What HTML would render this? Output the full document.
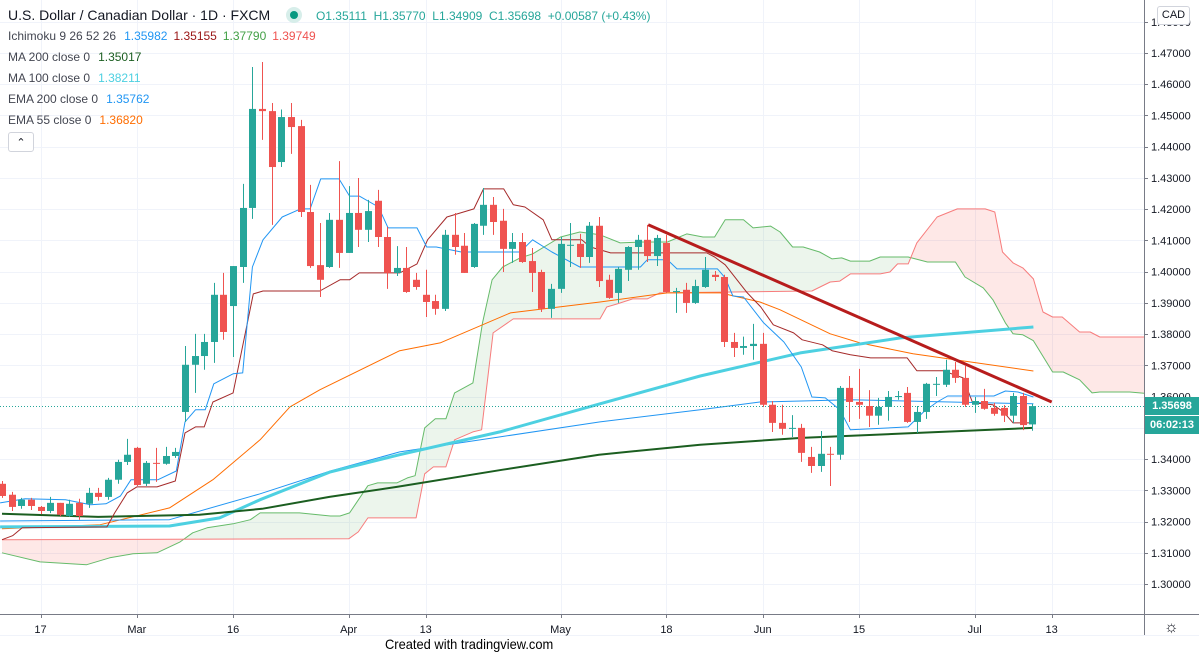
<!DOCTYPE html>
<html><head><meta charset="utf-8"><style>
html,body{margin:0;padding:0;background:#fff;width:1199px;height:659px;overflow:hidden}
body{font-family:"Liberation Sans",sans-serif;position:relative}
.leg{position:absolute;left:8px;font-size:12px;color:#434651;white-space:nowrap}
.leg span{margin-left:8px}
</style></head><body>
<svg id="chart" width="1199" height="659" style="position:absolute;left:0;top:0" xmlns="http://www.w3.org/2000/svg">
<defs><clipPath id="plotclip"><rect x="0" y="0" width="1144" height="614"/></clipPath></defs>
<g id="grid"></g>
<g id="cloud" clip-path="url(#plotclip)"></g>
<g id="lines" clip-path="url(#plotclip)"></g>
<g id="candles" clip-path="url(#plotclip)"></g>
<g id="trend" clip-path="url(#plotclip)"></g>
<g id="axes"></g>
</svg>
<div class="leg" style="top:7px;font-size:14px;color:#131722">U.S. Dollar / Canadian Dollar · 1D · FXCM
<span style="display:inline-block;width:16px;height:16px;border-radius:50%;background:#d7eeea;vertical-align:-3px;margin-left:12px;position:relative"><span style="position:absolute;left:4px;top:4px;width:8px;height:8px;border-radius:50%;background:#089981;margin:0"></span></span>
<span style="font-size:12px;color:#26a69a;margin-left:10px">O1.35111&nbsp; H1.35770&nbsp; L1.34909&nbsp; C1.35698&nbsp; +0.00587 (+0.43%)</span></div>
<div class="leg" style="top:29px">Ichimoku 9 26 52 26<span style="color:#2196f3">1.35982</span><span style="color:#991515;margin-left:6px">1.35155</span><span style="color:#43a047;margin-left:6px">1.37790</span><span style="color:#ef5350;margin-left:6px">1.39749</span></div>
<div class="leg" style="top:50px">MA 200 close 0<span style="color:#1b5e20">1.35017</span></div>
<div class="leg" style="top:71px">MA 100 close 0<span style="color:#4dd0e1">1.38211</span></div>
<div class="leg" style="top:92px">EMA 200 close 0<span style="color:#2196f3">1.35762</span></div>
<div class="leg" style="top:113px">EMA 55 close 0<span style="color:#ff6d00">1.36820</span></div>
<div style="position:absolute;left:8px;top:132px;width:24px;height:18px;border:1px solid #d1d4dc;border-radius:3px;background:#fff;font-size:11px;text-align:center;line-height:20px;color:#131722">&#8963;</div>
<div style="position:absolute;left:1157px;top:6px;width:31px;height:17px;border:1px solid #d1d4dc;border-radius:3px;background:#fff;font-size:11px;text-align:center;line-height:17px;color:#131722">CAD</div>
<div style="position:absolute;left:1145px;top:397px;width:54px;height:18px;background:#26a69a;color:#fff;font-size:11px;font-weight:bold;line-height:18px;text-align:center">1.35698</div>
<div style="position:absolute;left:1145px;top:416px;width:54px;height:18px;background:#26a69a;color:#fff;font-size:11px;font-weight:bold;line-height:18px;text-align:center">06:02:13</div>
<div style="position:absolute;left:1164px;top:619px;font-size:16px;color:#131722">&#9788;</div>
<div style="position:absolute;left:385px;top:636px;font-size:14px;color:#000;transform:scaleX(0.92);transform-origin:left">Created with tradingview.com</div>
<script>
const firstIndex = -4;
const opens  = [1.3321,1.3286,1.3250,1.3270,1.3247,1.3234,1.3260,1.3218,1.3260,1.3257,1.3292,1.3279,1.3334,1.3391,1.3436,1.3321,1.3388,1.3385,1.3410,1.3551,1.3702,1.3730,1.3775,1.3926,1.3890,1.4015,1.4204,1.4521,1.4514,1.4351,1.4495,1.4466,1.4191,1.4021,1.4015,1.4166,1.4060,1.4188,1.4134,1.4227,1.4111,1.3996,1.4012,1.3974,1.3926,1.3906,1.3881,1.4118,1.4083,1.4015,1.4147,1.4214,1.4163,1.4073,1.4095,1.4034,1.3999,1.3881,1.3945,1.4083,1.4089,1.4047,1.4147,1.3974,1.3932,1.4006,1.4079,1.4102,1.4050,1.4092,1.3935,1.3942,1.3900,1.3951,1.3990,1.3983,1.3775,1.3756,1.3762,1.3769,1.3574,1.3516,1.3497,1.3500,1.3407,1.3378,1.3417,1.3414,1.3628,1.3583,1.3570,1.3539,1.3567,1.3599,1.3612,1.3519,1.3551,1.3638,1.3638,1.3686,1.3660,1.3574,1.3586,1.3564,1.3564,1.3539,1.3602,1.35111];
const highs  = [1.3330,1.3295,1.3276,1.3276,1.3250,1.3279,1.3260,1.3270,1.3273,1.3308,1.3308,1.3340,1.3398,1.3465,1.3439,1.3394,1.3436,1.3439,1.3436,1.3762,1.3801,1.3801,1.3964,1.3996,1.4018,1.4281,1.4655,1.4671,1.4540,1.4519,1.4540,1.4486,1.4278,1.4156,1.4188,1.4354,1.4274,1.4300,1.4230,1.4262,1.4143,1.4082,1.4079,1.3996,1.4006,1.3926,1.4134,1.4188,1.4124,1.4156,1.4268,1.4239,1.4201,1.4124,1.4124,1.4076,1.4006,1.3961,1.4111,1.4156,1.4121,1.4159,1.4175,1.3990,1.4015,1.4082,1.4118,1.4150,1.4118,1.4118,1.3948,1.3964,1.3974,1.4047,1.4002,1.3990,1.3804,1.3792,1.3833,1.3804,1.3586,1.3574,1.3541,1.3513,1.3439,1.3490,1.3439,1.3634,1.3666,1.3689,1.3621,1.3596,1.3618,1.3618,1.3631,1.3570,1.3644,1.3663,1.3718,1.3711,1.3698,1.3599,1.3625,1.3580,1.3573,1.3612,1.3612,1.35770];
const lows   = [1.3276,1.3234,1.3241,1.3237,1.3224,1.3227,1.3218,1.3215,1.3206,1.3244,1.3267,1.3270,1.3321,1.3381,1.3314,1.3314,1.3327,1.3382,1.3404,1.3519,1.3612,1.3686,1.3708,1.3782,1.3727,1.3964,1.4169,1.4422,1.4150,1.4335,1.4377,1.4175,1.4012,1.3919,1.4012,1.4012,1.4060,1.4079,1.4095,1.4079,1.3945,1.3986,1.3932,1.3942,1.3855,1.3862,1.3874,1.4054,1.3996,1.4012,1.4118,1.4118,1.3999,1.4028,1.4028,1.3935,1.3871,1.3852,1.3932,1.4015,1.4012,1.4028,1.3951,1.3913,1.3900,1.3970,1.4006,1.4031,1.4018,1.3932,1.3868,1.3868,1.3897,1.3948,1.3970,1.3759,1.3727,1.3734,1.3718,1.3567,1.3487,1.3478,1.3471,1.3391,1.3356,1.3359,1.3314,1.3398,1.3519,1.3529,1.3503,1.3510,1.3523,1.3590,1.3516,1.3484,1.3529,1.3602,1.3631,1.3644,1.3567,1.3548,1.3558,1.3539,1.3519,1.3516,1.3493,1.34909];
const closes = [1.3282,1.3247,1.3270,1.3250,1.3234,1.3260,1.3222,1.3257,1.3218,1.3292,1.3279,1.3334,1.3391,1.3414,1.3317,1.3388,1.3385,1.3410,1.3423,1.3702,1.3730,1.3775,1.3926,1.3807,1.4018,1.4204,1.4521,1.4514,1.4335,1.4495,1.4463,1.4191,1.4018,1.3974,1.4166,1.4060,1.4188,1.4134,1.4194,1.4111,1.3996,1.4012,1.3935,1.3951,1.3903,1.3881,1.4118,1.4079,1.3996,1.4153,1.4214,1.4159,1.4073,1.4095,1.4031,1.3996,1.3881,1.3945,1.4089,1.4086,1.4047,1.4147,1.3970,1.3916,1.4009,1.4079,1.4102,1.4050,1.4108,1.3935,1.3938,1.3900,1.3954,1.4006,1.3983,1.3775,1.3756,1.3762,1.3769,1.3574,1.3516,1.3497,1.3500,1.3420,1.3378,1.3417,1.3414,1.3628,1.3583,1.3574,1.3539,1.3567,1.3599,1.3602,1.3519,1.3551,1.3641,1.3641,1.3686,1.3660,1.3574,1.3586,1.3561,1.3545,1.3539,1.3602,1.3509,1.35698];

const ma200Idx = [-4,6,16.5,23,30,37,48,58,68.5,79,89,103];
const ma200Val = [1.3225,1.3215,1.3222,1.3241,1.3279,1.3311,1.3366,1.3414,1.3446,1.3468,1.3481,1.3500];
const ma100Idx = [-4.2,13.4,18.6,22.8,30.1,37.3,47.7,58.1,68.5,78.9,89.3,103.1];
const ma100Val = [1.3183,1.3186,1.3212,1.3270,1.3359,1.3414,1.3487,1.3577,1.3666,1.3740,1.3788,1.3823];
const ema200Idx = [-4.2,13.4,22.8,30.1,37.3,47.7,58.1,68.5,74.7,84.1,103.1];
const ema200Val = [1.3202,1.3206,1.3289,1.3362,1.3423,1.3471,1.3519,1.3558,1.3583,1.3590,1.3577];
const ema55Idx = [-4,6.2,13.4,17.9,22.8,25.9,29,37.3,41.5,48.8,58.1,65.1,70.6,74.7,76.8,82,85.1,90.6,103.1];
const ema55Val = [1.3177,1.3190,1.3244,1.3334,1.3462,1.3567,1.3622,1.3747,1.3772,1.3868,1.3903,1.3932,1.3932,1.3903,1.3878,1.3801,1.3772,1.3737,1.3682];
const tenkanIdx = [-4.2,-1.6,2.6,5.2,6.8,8.3,9.4,12.2,14.1,15,16.1,17.1,18,20,21,22,23.1,25.1,27,28,29.1,31,32.1,33.1,35.1,36.1,39.1,40.1,41.1,43.7,49.8,51.1,53.1,56,58.1,62.3,63,65.1,66.1,70.3,71.1,71.9,73,75.1,77.2,79,80.1,81.5,83,84.1,90.1,91.7,93.1,94.2,99,100.2,101.5,103.1];
const tenkanVal = [1.3260,1.3273,1.3270,1.3254,1.3257,1.3282,1.3334,1.3334,1.3362,1.3519,1.3558,1.3558,1.3641,1.3673,1.3676,1.4015,1.4102,1.4175,1.4201,1.4201,1.4297,1.4297,1.4242,1.4242,1.4207,1.4140,1.4140,1.4079,1.4079,1.4063,1.4063,1.4102,1.4063,1.4015,1.4015,1.4015,1.4038,1.4038,1.4009,1.4009,1.3980,1.3922,1.3919,1.3836,1.3775,1.3695,1.3599,1.3596,1.3558,1.3494,1.3503,1.3551,1.3583,1.3602,1.3602,1.3618,1.3615,1.3599];
const kijunIdx = [-4,-2.9,-1.9,6.9,7.7,9,10,12.1,14,15,16.1,17,17.9,20,22.1,23.1,29,31.1,32.1,33.1,37.3,39.1,40.2,42.2,45,46,48.1,49.1,50.3,52.2,53.1,56.2,57.1,59.2,69.2,70,71.1,73.4,74.8,76.1,78.2,79.1,81.2,82.2,84.1,86.2,90,91,93.7,95.8,96.8,98.9,100,101,103.1];
const kijunVal = [1.3142,1.3155,1.3180,1.3183,1.3228,1.3292,1.3311,1.3311,1.3330,1.3484,1.3503,1.3503,1.3583,1.3612,1.3929,1.3938,1.3938,1.3974,1.3974,1.3996,1.3996,1.4025,1.4102,1.4175,1.4201,1.4265,1.4265,1.4214,1.4207,1.4166,1.4102,1.4102,1.4079,1.4060,1.4060,1.4047,1.4022,1.3932,1.3887,1.3830,1.3804,1.3782,1.3766,1.3747,1.3734,1.3724,1.3724,1.3683,1.3683,1.3660,1.3580,1.3574,1.3551,1.3516,1.3516];
const spanAIdx = [-4,-0.05,4.8,7.2,9.6,12.1,14.5,15.8,17.3,20,21.8,22.8,26.9,30.1,31.1,32.1,34,35,37,38.1,38.9,39.9,41,42.1,43,44.9,45.9,46.9,48,49.8,51.1,54,56,58.1,60.2,62.3,65.1,67.1,68.8,70,71.1,73,74,75.8,76.8,78.1,79.2,80.9,82.2,83.2,84.1,86.1,87.2,90.1,92.1,95,96,97.9,98.9,100.2,101,102,103.1,105.1,106.2,107.9,109.2,110,113.1,115.2];
const spanAVal = [1.3100,1.3071,1.3062,1.3084,1.3097,1.3100,1.3135,1.3164,1.3180,1.3193,1.3206,1.3228,1.3228,1.3218,1.3218,1.3228,1.3315,1.3324,1.3324,1.3340,1.3347,1.3500,1.3529,1.3529,1.3612,1.3644,1.3836,1.3974,1.4015,1.4044,1.4057,1.4111,1.4127,1.4118,1.4092,1.4095,1.4095,1.4121,1.4111,1.4111,1.4166,1.4166,1.4140,1.4146,1.4127,1.4079,1.4079,1.4063,1.4041,1.4044,1.4034,1.4034,1.4047,1.4047,1.4031,1.4031,1.3983,1.3948,1.3910,1.3836,1.3801,1.3798,1.3779,1.3679,1.3679,1.3654,1.3612,1.3615,1.3615,1.3609];
const spanBIdx = [-4,32,33,34,39,39.9,40.8,42.1,43,44.9,45.8,47,49.1,58.1,58.8,59.9,61.5,63,64.3,80.1,82,83,84.1,87.2,88.2,89,90.1,91,93.1,95.2,98.1,99.1,99.9,101,102,103.1,104.1,105.1,106.1,107.9,109,110,115.2];
const spanBVal = [1.3142,1.3145,1.3167,1.3212,1.3212,1.3353,1.3375,1.3375,1.3462,1.3487,1.3494,1.3804,1.3849,1.3849,1.3887,1.3897,1.3913,1.3913,1.3932,1.3938,1.3967,1.3970,1.3993,1.3993,1.3999,1.4025,1.4025,1.4092,1.4175,1.4201,1.4201,1.4191,1.4063,1.4028,1.4012,1.3977,1.3871,1.3855,1.3855,1.3807,1.3807,1.3791,1.3791];
const trendIdx = [63.1,105];
const trendVal = [1.4150,1.3583];
const priceTicks = [1.30,1.31,1.32,1.33,1.34,1.35,1.36,1.37,1.38,1.39,1.40,1.41,1.42,1.43,1.44,1.45,1.46,1.47,1.48];
const timeTickIdx = [0,10,20,32,40,54,65,75,85,97,105];
const timeTickLabels = ["17","Mar","16","Apr","13","May","18","Jun","15","Jul","13"];
const lastClose = 1.35698;

const NS = "http://www.w3.org/2000/svg";
const PLOT_R = 1144, PLOT_B = 614;
function xS(i){ return 40.5 + i*9.63; }
function yS(p){ return 53 + (1.47 - p)*3124; }
function mk(tag, attrs, parent){ const e=document.createElementNS(NS,tag); for(const k in attrs) e.setAttribute(k,attrs[k]); parent.appendChild(e); return e; }

const grid=document.getElementById('grid');
priceTicks.forEach(p=>{
  const y=Math.round(yS(p))+0.5;
  const l=mk('line',{x1:0,x2:PLOT_R,y1:y,y2:y,stroke:'#f0f3fa','stroke-width':1},grid);
  
  
});
timeTickIdx.forEach(i=>{
  const x=Math.round(xS(i))+0.5;
  const l=mk('line',{x1:x,x2:x,y1:0,y2:PLOT_B,stroke:'#f0f3fa','stroke-width':1},grid);
  
  
});

// cloud
function interp(idx,val,i){
  if(i<idx[0]||i>idx[idx.length-1]) return null;
  for(let k=0;k<idx.length-1;k++){ if(i>=idx[k]&&i<=idx[k+1]){ const t=(idx[k+1]-idx[k])?(i-idx[k])/(idx[k+1]-idx[k]):0; return val[k]+t*(val[k+1]-val[k]); } }
  return val[val.length-1];
}
const cloud=document.getElementById('cloud');
(function(){
  const start=Math.max(spanAIdx[0],spanBIdx[0]), end=Math.min(spanAIdx[spanAIdx.length-1],spanBIdx[spanBIdx.length-1]);
  let run=[], sign=null;
  function flush(){
    if(run.length>1){
      const pts=run.map(r=>r[0].toFixed(1)+','+r[1].toFixed(1)).concat(run.slice().reverse().map(r=>r[0].toFixed(1)+','+r[2].toFixed(1)));
      const poly=mk('polygon',{points:pts.join(' '),fill:sign?'rgba(67,160,71,0.10)':'rgba(244,67,54,0.12)'},cloud);
      
      
    }
  }
  for(let i=start;i<=end+0.001;i+=0.1){
    const a=interp(spanAIdx,spanAVal,i), b=interp(spanBIdx,spanBVal,i);
    const s=a>=b;
    const pt=[xS(i),yS(a),yS(b)];
    if(sign===null) sign=s;
    if(s!==sign){ run.push(pt); flush(); run=[pt]; sign=s; } else run.push(pt);
  }
  flush();
})();

const lines=document.getElementById('lines');
function drawLine(idx,val,color,w,name,parent){
  const pts=idx.map((i,k)=>xS(i).toFixed(1)+','+yS(val[k]).toFixed(1)).join(' ');
  const pl=mk('polyline',{points:pts,fill:'none',stroke:color,'stroke-width':w,'stroke-linejoin':'round'},parent||lines);
  
  
}
drawLine(spanAIdx,spanAVal,'#66bb6a',1,'senkou-span-a');
drawLine(spanBIdx,spanBVal,'#f77c7c',1,'senkou-span-b');
drawLine(ema55Idx,ema55Val,'#ff6d00',1,'ema55-line');
drawLine(ema200Idx,ema200Val,'#2196f3',1,'ema200-line');
drawLine(ma100Idx,ma100Val,'#4dd0e1',3,'ma100-line');
drawLine(ma200Idx,ma200Val,'#1b5e20',2,'ma200-line');
drawLine(kijunIdx,kijunVal,'#a52a2a',1,'kijun-line');
drawLine(tenkanIdx,tenkanVal,'#2196f3',1,'tenkan-line');

// last price dotted line
const ly=Math.round(yS(lastClose))+0.5;
const pl=mk('line',{x1:0,x2:PLOT_R,y1:ly,y2:ly,stroke:'#26a69a','stroke-width':1,'stroke-dasharray':'1,2'},lines);



const cg=document.getElementById('candles');
opens.forEach((o,k)=>{
  const i=firstIndex+k, c=closes[k], h=highs[k], l=lows[k];
  const up=c>=o, col=up?'#26a69a':'#ef5350';
  const x=Math.round(xS(i));
  const g=mk('g',{},cg);
  
  
  mk('line',{x1:x+0.5,x2:x+0.5,y1:yS(h),y2:yS(l),stroke:col,'stroke-width':1},g);
  const top=yS(Math.max(o,c)), bot=yS(Math.min(o,c));
  mk('rect',{x:x-3,y:top,width:7,height:Math.max(1,bot-top),fill:col},g);
});

const tg=document.getElementById('trend');
drawLine(trendIdx,trendVal,'#b71c1c',3,'resistance-trendline',tg);

const ax=document.getElementById('axes');
let e=mk('line',{x1:PLOT_R+0.5,x2:PLOT_R+0.5,y1:0,y2:635,stroke:'#787b86','stroke-width':1},ax);
 
e=mk('line',{x1:0,x2:1199,y1:PLOT_B+0.5,y2:PLOT_B+0.5,stroke:'#787b86','stroke-width':1},ax);
 
e=mk('line',{x1:0,x2:1199,y1:635.5,y2:635.5,stroke:'#f0f3fa','stroke-width':1},ax);
 
priceTicks.forEach(p=>{
  const y=yS(p);
  const t=mk('line',{x1:PLOT_R,x2:PLOT_R+4,y1:Math.round(y)+0.5,y2:Math.round(y)+0.5,stroke:'#787b86'},ax);
  
  
  const tx=mk('text',{x:1151,y:y+4,'font-size':11,fill:'#131722','font-family':'Liberation Sans, sans-serif'},ax);
  tx.textContent=p.toFixed(5);
  
  
});
timeTickIdx.forEach((i,k)=>{
  const x=xS(i);
  const t=mk('line',{x1:Math.round(x)+0.5,x2:Math.round(x)+0.5,y1:PLOT_B,y2:PLOT_B+4,stroke:'#787b86'},ax);
  
  
  const tx=mk('text',{x:x,y:633,'font-size':11,fill:'#131722','text-anchor':'middle','font-family':'Liberation Sans, sans-serif'},ax);
  tx.textContent=timeTickLabels[k];
  
  
});
</script>
</body></html>
